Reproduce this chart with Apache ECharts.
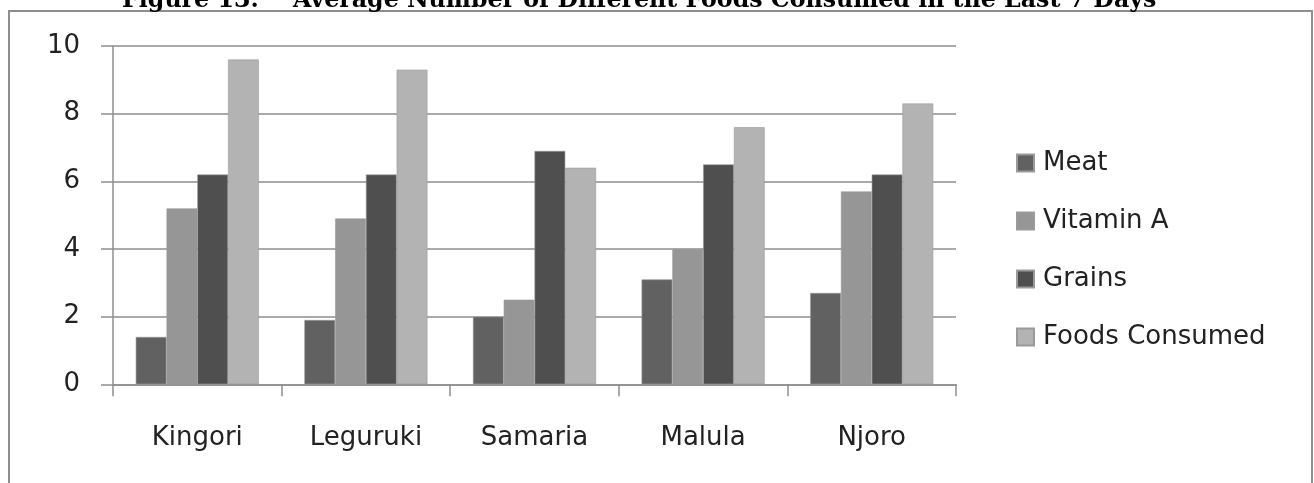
<!DOCTYPE html>
<html>
<head>
<meta charset="utf-8">
<script src="https://cdn.jsdelivr.net/npm/echarts@6/dist/echarts.min.js"></script>
<style>
  html, body { margin: 0; padding: 0; background: #fff; }
  #chart { width: 1314px; height: 483px; }
</style>
</head>
<body>
<div id="chart"></div>
<script>
// Sites surveyed
const sites = ['Kingori', 'Leguruki', 'Samaria', 'Malula', 'Njoro'];

// Average number of different foods consumed, per group
const meat = [1.4, 1.9, 2.0, 3.1, 2.7];
const vitaminA = [5.2, 4.9, 2.5, 4.0, 5.7];
const grains = [6.2, 6.2, 6.9, 6.5, 6.2];
const foodsConsumed = [9.6, 9.3, 6.4, 7.6, 8.3];

const yTicks = [0, 2, 4, 6, 8, 10];

const seriesNames = ['Meat', 'Vitamin A', 'Grains', 'Foods Consumed'];
const seriesValues = [meat, vitaminA, grains, foodsConsumed];
const seriesColors = ['#616161', '#969696', '#4f4f4f', '#b3b3b3'];

const font = 'DejaVu Sans';
const lineColor = '#8e8e8e';

const chart = echarts.init(document.getElementById('chart'), null, { renderer: 'canvas' });

chart.setOption({
  animation: false,
  backgroundColor: '#ffffff',
  graphic: [
    {
      type: 'rect',
      shape: { x: 9, y: 11, width: 1303, height: 520 },
      style: { fill: 'none', stroke: lineColor, lineWidth: 2 },
      silent: true
    },
    {
      type: 'text',
      x: 122, y: 12.5,
      style: {
        text: 'Figure 13:',
        font: 'bold 23.7px "DejaVu Serif"',
        fill: '#000',
        textVerticalAlign: 'bottom'
      }
    },
    {
      type: 'text',
      x: 293, y: 12.5,
      style: {
        text: 'Average Number of Different Foods Consumed in the Last 7 Days',
        font: 'bold 23.7px "DejaVu Serif"',
        fill: '#000',
        textVerticalAlign: 'bottom'
      }
    }
  ],
  grid: { left: 113, right: 358, top: 46, bottom: 98.7, containLabel: false },
  legend: {
    orient: 'vertical',
    left: 1011,
    top: 143,
    itemWidth: 17,
    itemHeight: 17,
    itemGap: 28,
    icon: 'rect',
    data: seriesNames,
    textStyle: {
      fontFamily: font, fontSize: 26, color: '#222', lineHeight: 30,
      padding: [0, 0, 0, 4]
    }
  },
  xAxis: {
    type: 'category',
    data: sites,
    axisLine: { show: true, lineStyle: { color: lineColor, width: 1.5 } },
    axisTick: { show: true, length: 12, inside: false, alignWithLabel: false, lineStyle: { color: lineColor, width: 1.5 } },
    axisLabel: { fontFamily: font, fontSize: 26, color: '#222', margin: 39, lineHeight: 30 },
    splitLine: { show: false }
  },
  yAxis: {
    type: 'value',
    min: yTicks[0],
    max: yTicks[yTicks.length - 1],
    interval: yTicks[1] - yTicks[0],
    axisLine: { show: true, lineStyle: { color: lineColor, width: 1.5 } },
    axisTick: { show: true, length: 12, inside: false, lineStyle: { color: lineColor, width: 1.5 } },
    axisLabel: { fontFamily: font, fontSize: 26, color: '#222', margin: 33 },
    splitLine: { show: true, lineStyle: { color: lineColor, width: 1.5 } }
  },
  series: seriesNames.map((name, i) => ({
    name: name,
    type: 'bar',
    data: seriesValues[i],
    barGap: '0%',
    barCategoryGap: '27%',
    itemStyle: { color: seriesColors[i], borderColor: '#9a9a9a', borderWidth: 0.6 }
  }))
});
</script>
</body>
</html>
